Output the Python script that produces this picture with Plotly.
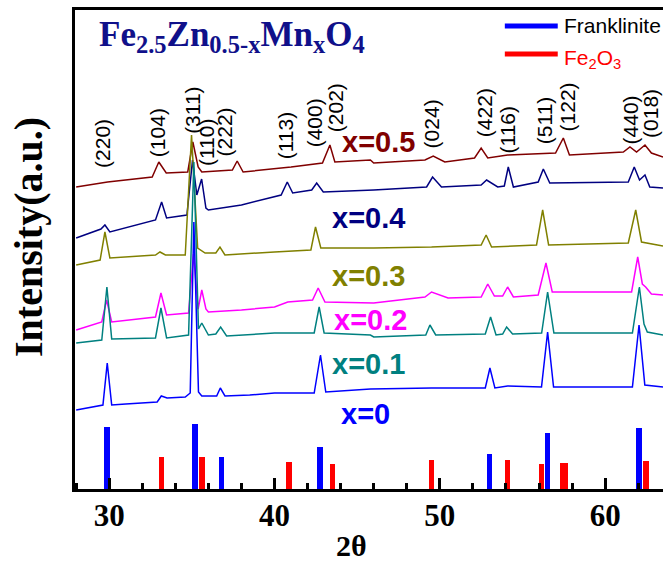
import plotly.graph_objects as go

# ---------------- data ----------------
# 2-theta / intensity (a.u.) for each composition, with vertical offsets already included
tt_x0 = [28.0, 29.0, 29.62, 29.88, 30.15, 31.0, 31.96, 32.9, 33.15, 33.5, 34.6, 34.9, 35.12, 35.4, 35.6,
         36.5, 36.72, 37.0, 38.5, 40.0, 42.4, 42.78, 43.1, 45.8, 49.5, 52.75, 53.03, 53.33, 54.1,
         56.15, 56.52, 56.88, 61.65, 62.05, 62.4, 63.5]
I_x0 = [79, 82, 84, 126, 84, 85, 86, 87, 93, 91, 92, 96, 267, 97, 93,
        93, 101, 93, 94, 96, 96, 134, 97, 100, 101, 101, 121, 101, 103,
        102, 157, 102, 102, 164, 104, 102]

tt_x1 = [28.0, 29.55, 29.86, 30.15, 32.8, 33.13, 33.47, 34.8, 35.12, 35.4, 35.6, 36.0, 36.45, 36.74,
         37.1, 40.0, 42.4, 42.7, 43.0, 45.8, 46.0, 49.15, 49.4, 49.75, 52.75, 53.07, 53.4, 53.8,
         54.04, 54.4, 56.16, 56.52, 56.9, 61.65, 62.07, 62.35, 62.55, 63.5]
I_x1 = [146, 149, 202, 150, 151, 181, 151, 154, 327, 160, 166, 154, 155, 162,
        153, 156, 156, 182, 156, 154, 152, 154, 164, 154, 155, 172, 154, 155,
        162, 155, 156, 197, 156, 156, 202, 165, 157, 154]

tt_x2 = [28.0, 29.55, 29.84, 30.15, 32.8, 33.13, 33.47, 34.8, 35.1, 35.38, 35.6, 35.85, 36.0, 38.0,
         40.0, 40.8, 42.3, 42.64, 43.05, 46.0, 49.1, 49.5, 50.5, 52.5, 52.9, 53.3, 53.8, 54.1,
         54.45, 55.95, 56.42, 56.8, 61.6, 61.97, 62.25, 62.45, 62.8, 63.5]
I_x2 = [159, 167, 189, 167, 172, 196, 174, 176, 235, 180, 199, 180, 177, 179,
        182, 187, 189, 201, 187, 186, 192, 197, 191, 192, 205, 193, 193, 202,
        192, 194, 226, 197, 197, 232, 205, 202, 195, 194]

tt_x3 = [28.0, 29.45, 29.74, 30.04, 32.8, 33.07, 33.4, 34.6, 34.98, 35.35, 35.8, 36.45, 36.7, 37.0,
         40.0, 42.2, 42.48, 42.8, 46.0, 49.5, 52.5, 52.8, 53.13, 55.85, 56.22, 56.58, 61.4, 61.85,
         62.2, 63.5]
I_x3 = [224, 229, 257, 231, 234, 237, 234, 234, 354, 241, 236, 236, 242, 234,
        237, 239, 262, 241, 241, 242, 244, 254, 242, 244, 279, 244, 246, 279,
        247, 243]

tt_x4 = [28.0, 29.5, 29.74, 30.04, 32.8, 33.17, 33.47, 34.7, 35.04, 35.3, 35.59, 35.85, 36.0, 38.0,
         40.4, 40.77, 41.1, 42.25, 42.55, 42.95, 46.0, 49.2, 49.56, 50.1, 52.5, 52.83, 53.5, 53.9,
         54.14, 54.45, 55.95, 56.26, 56.65, 61.4, 61.76, 62.08, 62.41, 62.7, 63.5]
I_x4 = [251, 260, 264, 257, 269, 287, 271, 274, 329, 294, 310, 281, 279, 284,
        294, 307, 296, 299, 306, 297, 299, 302, 312, 302, 304, 309, 302, 303,
        322, 302, 307, 320, 306, 307, 322, 309, 314, 302, 301]

tt_x5 = [28.0, 29.9, 32.6, 33.0, 33.45, 34.75, 35.06, 35.38, 35.6, 37.45, 37.74, 38.1, 41.0, 42.9,
         43.35, 43.65, 45.8, 46.0, 49.1, 49.6, 50.3, 52.1, 52.5, 52.9, 54.1, 57.0, 57.47, 57.84,
         61.1, 61.5, 61.9, 62.41, 62.8, 63.5]
I_x5 = [302, 307, 312, 327, 316, 317, 347, 322, 317, 319, 328, 317, 322, 326,
        344, 327, 329, 326, 329, 333, 327, 331, 341, 331, 334, 336, 351, 334,
        337, 342, 337, 344, 336, 332]

series_names = ["x=0", "x=0.1", "x=0.2", "x=0.3", "x=0.4", "x=0.5"]
series_tt = [tt_x0, tt_x1, tt_x2, tt_x3, tt_x4, tt_x5]
series_I = [I_x0, I_x1, I_x2, I_x3, I_x4, I_x5]
series_colors = ["#0000FF", "#008080", "#FF00FF", "#808000", "#000080", "#800000"]
# label anchor (left edge 2-theta, centre intensity)
label_tt = [43.9, 43.35, 43.47, 43.35, 43.35, 43.96]
label_I = [75, 125, 169, 213, 271.5, 347]

# reference patterns
frank_pos = [29.86, 35.19, 36.8, 42.75, 53.01, 56.5, 62.05]
frank_h = [62, 65, 32, 42, 35, 56, 61]
hem_pos = [33.15, 35.6, 40.87, 43.5, 49.48, 54.1, 56.16, 57.43, 57.58, 62.47]
hem_h = [32, 32, 27, 25, 29, 29, 25, 26, 26, 28]

# Miller indices: label, 2-theta, intensity at bottom of text
hkl_text = ["(220)", "(104)", "(311)", "(110)", "(222)", "(113)", "(400)", "(202)",
            "(024)", "(422)", "(116)", "(511)", "(122)", "(440)", "(018)"]
hkl_tt = [29.59, 32.93, 35.03, 35.89, 37.0, 40.68, 42.44, 43.7,
          49.52, 52.71, 54.12, 56.34, 57.75, 61.56, 62.74]
hkl_I = [319, 330, 353, 321, 331, 328, 340, 355,
         339, 350, 334, 343, 356, 343, 349]

x_ticks = [30, 40, 50, 60]

# ---------------- figure ----------------
fig = go.Figure()

fig.add_trace(go.Bar(x=frank_pos, y=frank_h, width=0.33, marker=dict(color="#0000FF", line=dict(width=0)),
                     name="Franklinite", showlegend=False))
fig.add_trace(go.Bar(x=hem_pos, y=hem_h, width=0.33, marker=dict(color="#FF0000", line=dict(width=0)),
                     name="Fe2O3", showlegend=False))

for name, tt, I, col in reversed(list(zip(series_names, series_tt, series_I, series_colors))):
    fig.add_trace(go.Scatter(x=tt, y=I, mode="lines", line=dict(color=col, width=1.5),
                             name=name, showlegend=False))

ann = []
bold_sans = dict(family="Liberation Sans, Arial", size=29, weight="bold")
for name, lx, ly, col in zip(series_names, label_tt, label_I, series_colors):
    ann.append(dict(x=lx, y=ly, xref="x", yref="y", text=name, showarrow=False,
                    xanchor="left", yanchor="middle", font=dict(bold_sans, color=col)))

for t, x, y in zip(hkl_text, hkl_tt, hkl_I):
    ann.append(dict(x=x, y=y, xref="x", yref="y", text=t, showarrow=False, textangle=-90,
                    xanchor="center", yanchor="bottom",
                    font=dict(family="Liberation Sans, Arial", size=21, color="black")))

serif_b = dict(family="Liberation Serif, Times New Roman", weight="bold", color="black")
# title of the sample series
ann.append(dict(x=0.037, y=0.993, xref="paper", yref="paper", xanchor="left", yanchor="top",
                text="Fe<sub>2.5</sub>Zn<sub>0.5-x</sub>Mn<sub>x</sub>O<sub>4</sub>", showarrow=False,
                font=dict(family="Liberation Serif, Times New Roman", weight="bold", size=35, color="#10108a")))
# legend
ann.append(dict(x=0.828, y=0.9666, xref="paper", yref="paper", xanchor="left", yanchor="middle",
                text="Franklinite", showarrow=False,
                font=dict(family="Liberation Sans, Arial", size=21, color="black")))
ann.append(dict(x=0.828, y=0.898, xref="paper", yref="paper", xanchor="left", yanchor="middle",
                text="Fe<sub>2</sub>O<sub>3</sub>", showarrow=False,
                font=dict(family="Liberation Sans, Arial", size=21, color="#FF0000")))
# axis titles
ann.append(dict(x=0.471, y=-0.117, xref="paper", yref="paper", xanchor="center", yanchor="middle",
                text="2θ", showarrow=False, font=dict(serif_b, size=30)))
ann.append(dict(x=-0.08, y=0.526, xref="paper", yref="paper", xanchor="center", yanchor="middle",
                text="Intensity(a.u.)", textangle=-90, showarrow=False, font=dict(serif_b, size=40)))

shapes = [
    dict(type="line", xref="paper", yref="paper", x0=0.731, x1=0.821, y0=0.9666, y1=0.9666,
         line=dict(color="#0000FF", width=5)),
    dict(type="line", xref="paper", yref="paper", x0=0.731, x1=0.821, y0=0.908, y1=0.908,
         line=dict(color="#FF0000", width=5)),
]

fig.update_layout(
    width=663, height=562,
    margin=dict(l=75, r=0, t=10, b=73),
    paper_bgcolor="white", plot_bgcolor="white",
    barmode="overlay", bargap=0,
    annotations=ann, shapes=shapes,
    showlegend=False,
)
fig.update_xaxes(range=[27.93, 63.5], showline=True, linewidth=3, linecolor="black", mirror=True,
                 ticks="inside", ticklen=11, tickwidth=3, tickcolor="black",
                 tickmode="array", tickvals=x_ticks, ticktext=[str(v) for v in x_ticks],
                 minor=dict(dtick=2, tick0=0, ticks="inside", ticklen=6, tickwidth=3, tickcolor="black"),
                 showgrid=False, zeroline=False, ticklabelstandoff=-3,
                 tickfont=dict(family="Liberation Serif, Times New Roman", size=31, weight="bold", color="black"))
fig.update_yaxes(range=[0, 479], showline=True, linewidth=3, linecolor="black", mirror=False,
                 ticks="", showticklabels=False, showgrid=False, zeroline=False)

fig.write_html("out.html")
